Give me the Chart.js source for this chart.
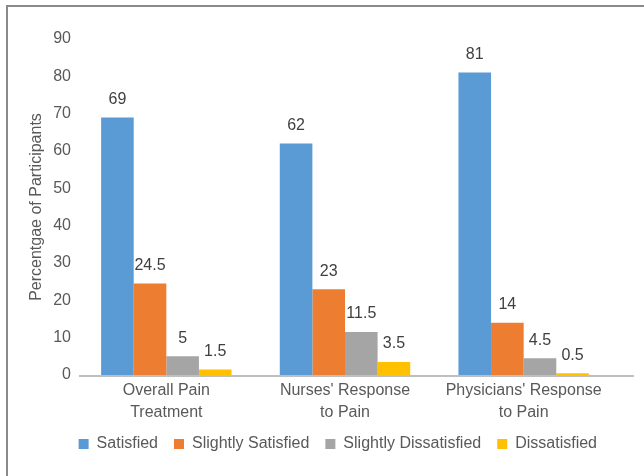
<!DOCTYPE html>
<html>
<head>
<meta charset="utf-8">
<script src="https://cdn.jsdelivr.net/npm/chart.js@4"></script>
<style>
  body { margin: 0; background: #fff; overflow: hidden; }
  #moldura {
    position: absolute; left: 6px; top: 5px;
    width: 700px; height: 500px;
    border-left: 2px solid #8a8a8a;
    border-top: 2px solid #8a8a8a;
  }
  #grafico1 { position: absolute; left: 0; top: 0; }
</style>
</head>
<body>
<div id="moldura"></div>
<canvas id="grafico1" width="644" height="476"></canvas>
<script>
let categorias = [
    ['Overall Pain', 'Treatment'],
    ["Nurses' Response", 'to Pain'],
    ["Physicians' Response", 'to Pain']
]
let satisfied = [69, 62, 81]
let slightlySatisfied = [24.5, 23, 14]
let slightlyDissatisfied = [5, 11.5, 4.5]
let dissatisfied = [1.5, 3.5, 0.5]

let fonte = '"Liberation Sans", Arial, sans-serif'

// linha do eixo x (no Excel ela passa um pouco da area das barras)
let eixo = {
    id: 'eixo',
    afterDatasetsDraw(chart) {
        let c = chart.ctx
        let y0 = chart.scales.y.getPixelForValue(0)
        c.save()
        c.strokeStyle = '#BFBFBF'
        c.lineWidth = 2
        c.beginPath()
        c.moveTo(chart.chartArea.left + 2, y0 + 1)
        c.lineTo(chart.chartArea.right + 21, y0 + 1)
        c.stroke()
        c.restore()
    }
}

// rotulos em cima das barras
let rotulos = {
    id: 'rotulos',
    afterDatasetsDraw(chart) {
        let c = chart.ctx
        c.save()
        c.font = '16px ' + fonte
        c.fillStyle = '#404040'
        c.textAlign = 'center'
        c.textBaseline = 'middle'
        chart.data.datasets.forEach((ds, i) => {
            chart.getDatasetMeta(i).data.forEach((bar, j) => {
                c.fillText(ds.data[j], bar.x, bar.y - 18)
            })
        })
        c.restore()
    }
}

let ctx = document.getElementById('grafico1').getContext('2d')

let grafico = new Chart(ctx, {
    type: 'bar',
    data: {
        labels: categorias,
        datasets: [
            { label: 'Satisfied', data: satisfied, backgroundColor: '#5B9BD5' },
            { label: 'Slightly Satisfied', data: slightlySatisfied, backgroundColor: '#ED7D31' },
            { label: 'Slightly Dissatisfied', data: slightlyDissatisfied, backgroundColor: '#A5A5A5' },
            { label: 'Dissatisfied', data: dissatisfied, backgroundColor: '#FFC000' }
        ]
    },
    plugins: [eixo, rotulos],
    options: {
        responsive: false,
        animation: false,
        layout: { padding: { top: 39, right: 31, left: 23, bottom: 14 } },
        datasets: {
            bar: { barPercentage: 1, categoryPercentage: 0.73 }
        },
        scales: {
            y: {
                min: 0,
                max: 90,
                ticks: {
                    stepSize: 10,
                    color: '#595959',
                    padding: 6,
                    font: { size: 16, family: fonte }
                },
                grid: { display: false, drawTicks: false },
                border: { display: false },
                title: {
                    display: true,
                    text: 'Percentgae of Participants',
                    color: '#595959',
                    padding: { top: 4, bottom: 1 },
                    font: { size: 16, family: fonte }
                }
            },
            x: {
                grid: { display: false, drawTicks: false },
                border: { display: false },
                ticks: {
                    color: '#595959',
                    padding: 5,
                    font: { size: 16, family: fonte, lineHeight: 1.375 }
                },
                // a legenda ja tem folga em cima, encolhe o eixo
                afterFit: (scale) => { scale.height -= 9 }
            }
        },
        plugins: {
            legend: {
                position: 'bottom',
                align: 'end',
                labels: {
                    boxWidth: 10,
                    boxHeight: 10,
                    padding: 16,
                    color: '#595959',
                    font: { size: 16, family: fonte }
                }
            },
            tooltip: { enabled: false }
        }
    }
})
</script>
</body>
</html>
